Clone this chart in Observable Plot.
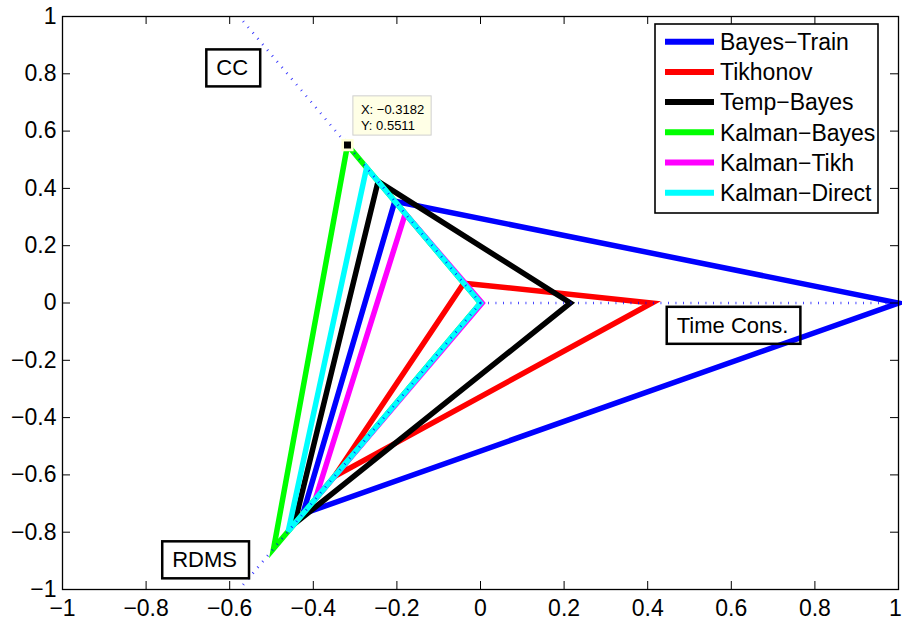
<!DOCTYPE html>
<html>
<head>
<meta charset="utf-8">
<script src="https://cdn.jsdelivr.net/npm/d3@7"></script>
<script src="https://cdn.jsdelivr.net/npm/@observablehq/plot@0.6"></script>
<style>
  html, body { margin: 0; padding: 0; background: #fff; }
  #chart svg { display: block; }
</style>
</head>
<body>
<div id="chart"></div>
<script>
// Methods compared on three criteria, each drawn as a closed triangle
const seriesNames = ["Bayes\u2212Train", "Tikhonov", "Temp\u2212Bayes", "Kalman\u2212Bayes", "Kalman\u2212Tikh", "Kalman\u2212Direct"];
const seriesColors = ["#0000ff", "#ff0000", "#000000", "#00ff00", "#ff00ff", "#00ffff"];
const ccScore   = [0.41, 0.08, 0.49, 0.6364, 0.36, 0.545];
const timeScore = [1.0, 0.41, 0.215, 0.0, 0.004, 0.0];
const rdmsScore = [0.85, 0.70, 0.89, 0.99, 0.79, 0.92];

// Criterion axes (angle in degrees, reach from the origin)
const axisNames  = ["CC", "Time Cons.", "RDMS"];
const axisAngles = [120, 0, 240];
const axisReach  = [1.2, 1.0, 1.2];
// Where each criterion name sits (data coordinates)
const axisLabelX = [-0.594, 0.603, -0.660];
const axisLabelY = [0.819, -0.0795, -0.898];

// Axis ticks
const xTicks = [-1, -0.8, -0.6, -0.4, -0.2, 0, 0.2, 0.4, 0.6, 0.8, 1];
const yTicks = [-1, -0.8, -0.6, -0.4, -0.2, 0, 0.2, 0.4, 0.6, 0.8, 1];

// Highlighted point: the Kalman-Bayes CC vertex
const tipSeries = 3;

const width = 902, height = 621;
const margin = {top: 16, right: 4, bottom: 32, left: 62};
const innerW = width - margin.left - margin.right;
const innerH = height - margin.top - margin.bottom;
const fontFamily = "'Liberation Sans', Arial, Helvetica, sans-serif";
const tickFont = 23;

const deg = Math.PI / 180;
const polar = (r, a) => ({x: r * Math.cos(a * deg), y: r * Math.sin(a * deg)});

const triangles = seriesNames.map((name, i) => [
  {series: name, ...polar(ccScore[i], axisAngles[0])},
  {series: name, ...polar(timeScore[i], axisAngles[1])},
  {series: name, ...polar(rdmsScore[i], axisAngles[2])}
]);

const axisRows = axisNames.map((name, i) => ({name, x0: 0, y0: 0, ...polar(axisReach[i], axisAngles[i])}));
const labelRows = axisNames.map((name, i) => ({name, x: axisLabelX[i], y: axisLabelY[i]}));
const tipPoint = polar(ccScore[tipSeries], axisAngles[0]);

const tickFmt = d3.format("");
const tipFmt = d3.format(".4f");

const svg = Plot.plot({
  width, height,
  marginTop: margin.top, marginRight: margin.right,
  marginBottom: margin.bottom, marginLeft: margin.left,
  x: {domain: [-1, 1]},
  y: {domain: [-1, 1]},
  style: {fontFamily, fontSize: "22px", color: "black", background: "white"},
  marks: [
    // method triangles
    ...triangles.map((rows, i) => Plot.line(rows, {
      x: "x", y: "y", curve: "linear-closed",
      stroke: seriesColors[i], strokeWidth: 5.5,
      strokeLinejoin: "miter", strokeMiterlimit: 4
    })),
    // dotted criterion axes
    Plot.link(axisRows, {
      x1: "x0", y1: "y0", x2: "x", y2: "y",
      stroke: "#0000ff", strokeWidth: 2.6, strokeOpacity: 0.8,
      strokeDasharray: "0.9,6.6", clip: true
    }),
    // criterion names
    Plot.text(labelRows, {
      x: "x", y: "y", text: "name", fontSize: 22,
      textAnchor: "middle", lineAnchor: "middle", ariaDescription: "criterion-name"
    }),
    // data tip
    Plot.dot([tipPoint], {
      x: "x", y: "y", symbol: "square", r: 5.4,
      fill: "black", stroke: "#ffffd8", strokeWidth: 2.6
    }),
    Plot.text([tipPoint], {
      x: "x", y: "y",
      text: d => `X: ${tipFmt(d.x)}\nY: ${tipFmt(d.y)}`,
      textAnchor: "start", lineAnchor: "bottom", lineHeight: 1.25,
      dx: 13.4, dy: -15, fontSize: 13, ariaDescription: "datatip"
    }),
    // inward ticks on all four sides
    Plot.tickX(xTicks, {x: d => d, insetTop: innerH - 8, stroke: "black"}),
    Plot.tickX(xTicks, {x: d => d, insetBottom: innerH - 8, stroke: "black"}),
    Plot.tickY(yTicks, {y: d => d, insetRight: innerW - 8, stroke: "black"}),
    Plot.tickY(yTicks, {y: d => d, insetLeft: innerW - 8, stroke: "black"}),
    Plot.axisX({ticks: xTicks, anchor: "bottom", tickSize: 0, tickPadding: 10, tickFormat: tickFmt, fontSize: tickFont, label: null, ariaDescription: "x-tick-labels"}),
    Plot.axisY({ticks: yTicks, anchor: "left", tickSize: 0, tickPadding: 6, tickFormat: tickFmt, fontSize: tickFont, label: null}),
    Plot.frame({stroke: "black", strokeWidth: 1.3})
  ]
});

document.getElementById("chart").append(svg);
const root = d3.select(svg);

// Keep the rightmost x tick label inside the canvas
const xLabels = root.selectAll('g[aria-description="x-tick-labels"] text').nodes();
if (xLabels.length) xLabels[xLabels.length - 1].setAttribute("dx", "-3");

// Outline boxes around text, sized from the rendered text
function boxText(selector, pad, fill, stroke, strokeWidth) {
  root.selectAll(selector).each(function() {
    const b = this.getBBox();
    const rect = document.createElementNS("http://www.w3.org/2000/svg", "rect");
    this.parentNode.insertBefore(rect, this);
    d3.select(rect)
      .attr("x", b.x - pad.l).attr("y", b.y - pad.t)
      .attr("width", b.width + pad.l + pad.r).attr("height", b.height + pad.t + pad.b)
      .attr("fill", fill).attr("stroke", stroke).attr("stroke-width", strokeWidth);
    const t = this.getAttribute("transform");
    if (t) rect.setAttribute("transform", t);
  });
}
boxText('g[aria-description="criterion-name"] text', {l: 10, r: 12, t: 6, b: 6}, "none", "black", 2.5);
boxText('g[aria-description="datatip"] text', {l: 8, r: 7, t: 6, b: 2}, "#ffffe6", "#cfcfcf", 1);

// Legend in the upper-right corner of the plot
const legendW = 223, legendH = 189;
const legendX = width - margin.right - 20 - legendW;
const legendY = margin.top + 8;
const legend = root.append("g")
  .attr("font-family", fontFamily).attr("font-size", tickFont)
  .attr("fill", "black").attr("text-anchor", "start");
legend.append("rect")
  .attr("x", legendX).attr("y", legendY).attr("width", legendW).attr("height", legendH)
  .attr("fill", "white").attr("stroke", "black").attr("stroke-width", 1.6);
seriesNames.forEach((name, i) => {
  const cy = legendY + 17.7 + i * 30.2;
  legend.append("line")
    .attr("x1", legendX + 10).attr("x2", legendX + 59)
    .attr("y1", cy).attr("y2", cy)
    .attr("stroke", seriesColors[i]).attr("stroke-width", 6);
  legend.append("text")
    .attr("x", legendX + 65).attr("y", cy).attr("dy", "0.36em")
    .text(name);
});
</script>
</body>
</html>
